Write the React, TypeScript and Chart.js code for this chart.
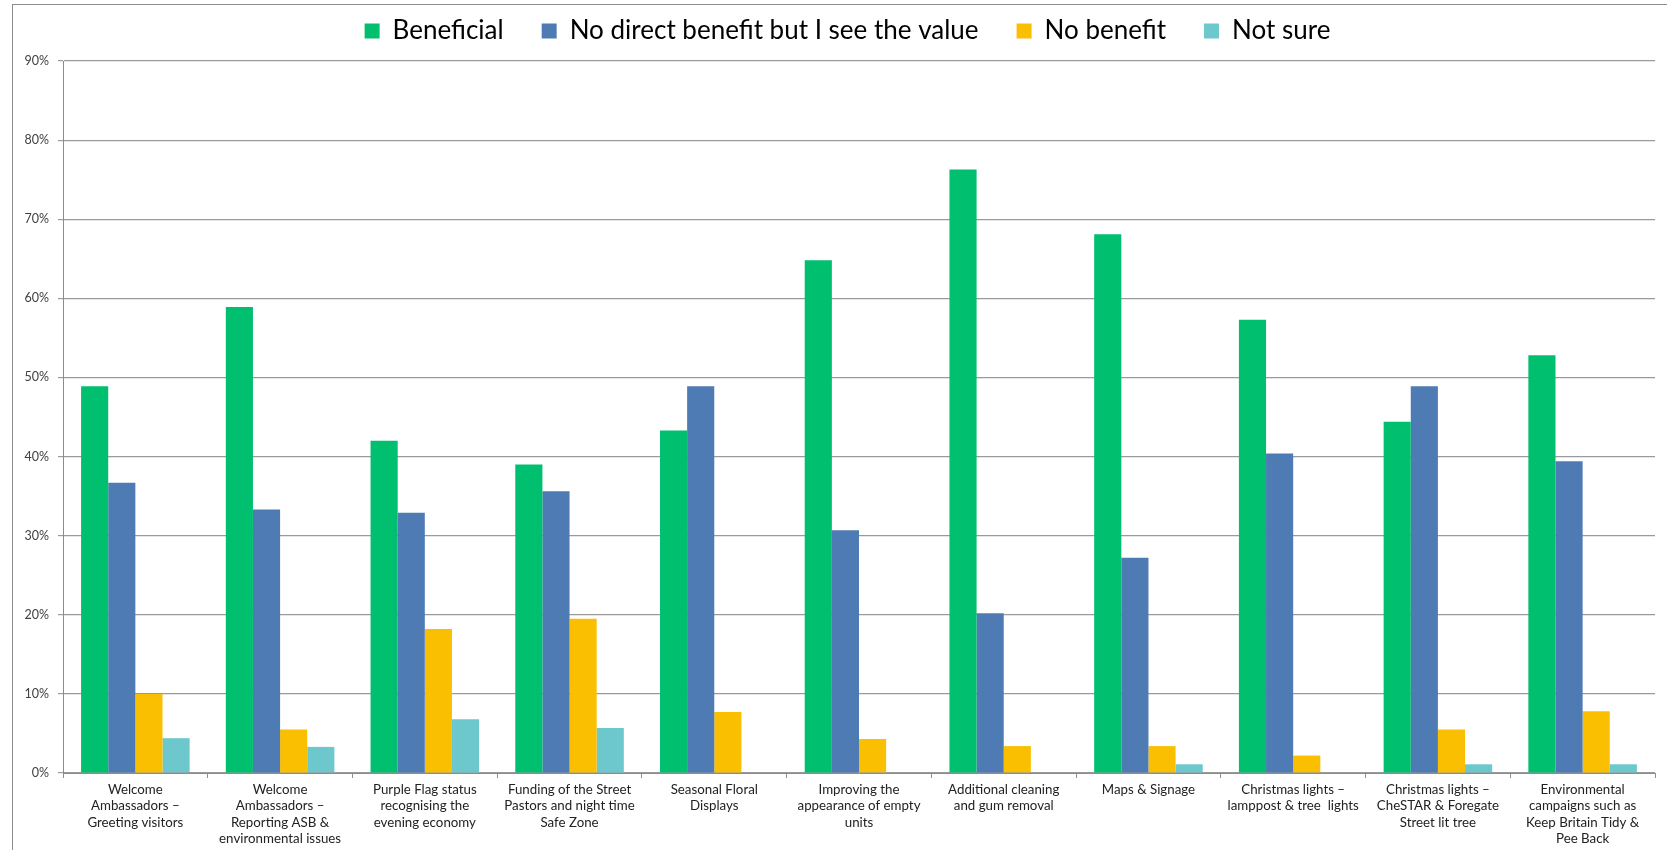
import React, { useEffect, useRef } from "react";
import { Chart, registerables } from "chart.js";

Chart.register(...registerables);

const categories: string[][] = [
  ["Welcome", "Ambassadors –", "Greeting visitors"],
  ["Welcome", "Ambassadors –", "Reporting ASB &", "environmental issues"],
  ["Purple Flag status", "recognising the", "evening economy"],
  ["Funding of the Street", "Pastors and night time", "Safe Zone"],
  ["Seasonal Floral", "Displays"],
  ["Improving the", "appearance of empty", "units"],
  ["Additional cleaning", "and gum removal"],
  ["Maps & Signage"],
  ["Christmas lights –", "lamppost & tree  lights"],
  ["Christmas lights –", "CheSTAR & Foregate", "Street lit tree"],
  ["Environmental", "campaigns such as", "Keep Britain Tidy &", "Pee Back"],
];

const beneficial = [48.9, 58.9, 42.0, 39.0, 43.3, 64.8, 76.3, 68.1, 57.3, 44.4, 52.8];
const noDirectBenefit = [36.7, 33.3, 32.9, 35.6, 48.9, 30.7, 20.2, 27.2, 40.4, 48.9, 39.4];
const noBenefit = [10.0, 5.5, 18.2, 19.5, 7.7, 4.3, 3.4, 3.4, 2.2, 5.5, 7.8];
const notSure = [4.4, 3.3, 6.8, 5.7, 0, 0, 0, 1.1, 0, 1.1, 1.1];

const seriesNames = ["Beneficial", "No direct benefit but I see the value", "No benefit", "Not sure"];
const seriesColors = ["#00BF6F", "#4F7BB5", "#FABF00", "#6DC8CD"];

const FONT = "Lato, 'Open Sans', sans-serif";

export default function App() {
  const ref = useRef<HTMLCanvasElement | null>(null);

  useEffect(() => {
    if (!ref.current) return;
    const values = [beneficial, noDirectBenefit, noBenefit, notSure];
    const chart = new Chart(ref.current, {
      type: "bar",
      data: {
        labels: categories,
        datasets: values.map((v, i) => ({
          label: seriesNames[i],
          data: v,
          xAxisID: "x",
          yAxisID: "y",
          backgroundColor: seriesColors[i],
          borderWidth: 0,
          categoryPercentage: 0.75,
          barPercentage: 1.0,
        })),
      },
      options: {
        animation: false,
        responsive: false,
        maintainAspectRatio: false,
        layout: { padding: { left: 0, right: -28, top: -20, bottom: 0 } },
        plugins: {
          legend: {
            position: "top",
            labels: {
              font: { family: FONT, size: 26 },
              color: "#000",
              boxWidth: 15,
              boxHeight: 15,
              padding: 38,
            },
          },
          tooltip: { enabled: false },
        },
        scales: {
          x: {
            position: "bottom",
            offset: true,
            grid: {
              display: true,
              offset: true,
              drawOnChartArea: false,
              drawTicks: true,
              tickLength: 5,
              color: "#8c8c8c",
            },
            border: { display: true, color: "#8c8c8c", width: 1 },
            ticks: {
              autoSkip: false,
              maxRotation: 0,
              minRotation: 0,
              padding: 3,
              color: "#222",
              font: { family: FONT, size: 13.3, lineHeight: 1.24 },
            },
            afterFit: (s: any) => {
              s.height = 77;
            },
          },
          y: {
            position: "left",
            min: 0,
            max: 90,
            grid: {
              color: "#9a9a9a",
              lineWidth: 1.2,
              tickLength: 5,
              drawTicks: true,
            },
            border: { display: true, color: "#8c8c8c", width: 1 },
            ticks: {
              stepSize: 10,
              padding: 9,
              color: "#404040",
              font: { family: FONT, size: 12.5 },
              callback: (v: any) => `${v}%`,
            },
            afterFit: (s: any) => {
              s.width = 63;
            },
          },
          xTop: {
            type: "category",
            position: "top",
            display: true,
            grid: { display: false },
            border: { display: false },
            ticks: { display: false },
            afterFit: (s: any) => {
              s.height = 7;
            },
          },
          yRight: {
            type: "linear",
            position: "right",
            display: true,
            grid: { display: false },
            border: { display: false },
            ticks: { display: false },
            afterFit: (s: any) => {
              s.width = 40;
            },
          },
        },
      },
    });
    return () => chart.destroy();
  }, []);

  return (
    <div style={{ position: "absolute", left: 0, top: 0, width: 1667, height: 850, overflow: "hidden", background: "#fff" }}>
      <div
        style={{
          position: "absolute",
          left: 12,
          top: 4,
          width: 1700,
          height: 900,
          border: "1px solid #8c8c8c",
          boxSizing: "border-box",
        }}
      />
      <canvas ref={ref} width={1667} height={850} style={{ position: "absolute", left: 0, top: 0 }} />
    </div>
  );
}
